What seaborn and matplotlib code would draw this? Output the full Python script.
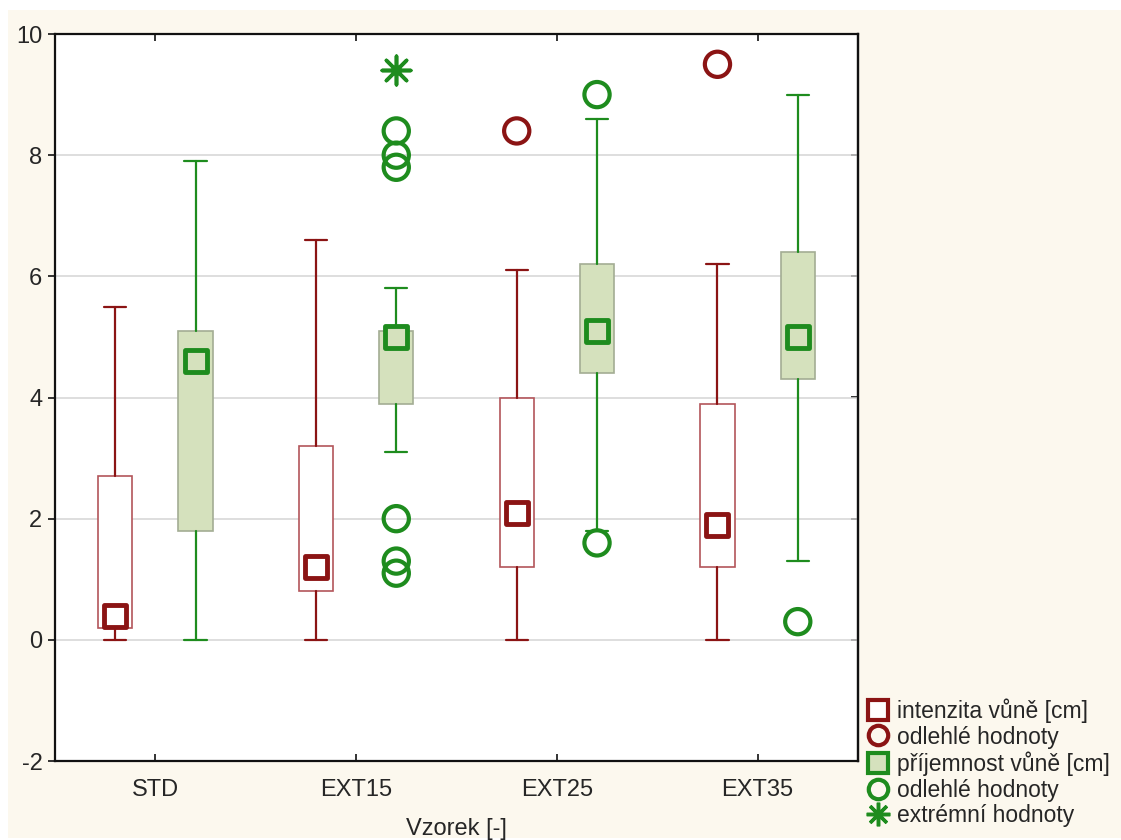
import numpy as np
import pandas as pd
import matplotlib
matplotlib.use("Agg")
import matplotlib.pyplot as plt
from matplotlib.lines import Line2D
from matplotlib.patches import Rectangle
import seaborn as sns

# Samples
categories = ["STD", "EXT15", "EXT25", "EXT35"]

# Odour intensity [cm]: median, quartiles, non-outlier range, outliers
int_med = [0.4, 1.2, 2.1, 1.9]
int_q1 = [0.2, 0.8, 1.2, 1.2]
int_q3 = [2.7, 3.2, 4.0, 3.9]
int_lo = [0.0, 0.0, 0.0, 0.0]
int_hi = [5.5, 6.6, 6.1, 6.2]
int_out = [[], [], [8.4], [9.5]]

# Odour pleasantness [cm]
pri_med = [4.6, 5.0, 5.1, 5.0]
pri_q1 = [1.8, 3.9, 4.4, 4.3]
pri_q3 = [5.1, 5.1, 6.2, 6.4]
pri_lo = [0.0, 3.1, 1.8, 1.3]
pri_hi = [7.9, 5.8, 8.6, 9.0]
pri_out = [[], [8.4, 8.0, 7.8, 2.0, 1.3, 1.1], [9.0, 1.6], [0.3]]
pri_ext = [[], [9.4], [], []]

y_ticks = [-2, 0, 2, 4, 6, 8, 10]

RED = "#8b1414"
RED_BOX = "#b3555a"
GREEN = "#1e8c1e"
GREEN_FILL = "#d5e1bd"
GREEN_BOX = "#a3ad94"
CREAM = "#fcf8ee"

sns.set_theme(style="white")
plt.rcParams["font.family"] = ["Liberation Sans", "DejaVu Sans"]

fig = plt.figure(figsize=(11.21, 8.40), dpi=100, facecolor="white")
fig.patches.append(Rectangle((8 / 1121, 2 / 840), 1, 828 / 840,
                             transform=fig.transFigure, facecolor=CREAM,
                             edgecolor="none", zorder=-10))
ax = fig.add_axes([55 / 1121, 79 / 840, 803 / 1121, 727 / 840])
ax.set_facecolor("white")

offset = 0.2
pos = np.arange(len(categories))
pos_int = pos - offset
pos_pri = pos + offset


def stats_of(med, q1, q3, lo, hi):
    return [dict(med=m, q1=a, q3=b, whislo=l, whishi=h, fliers=[])
            for m, a, b, l, h in zip(med, q1, q3, lo, hi)]


ax.bxp(stats_of(int_med, int_q1, int_q3, int_lo, int_hi), positions=pos_int,
       widths=0.17, capwidths=0.11, showfliers=False, patch_artist=True,
       boxprops=dict(facecolor="white", edgecolor=RED_BOX, linewidth=1.2),
       whiskerprops=dict(color=RED, linewidth=1.6),
       capprops=dict(color=RED, linewidth=1.6),
       medianprops=dict(linewidth=0), zorder=3)
ax.bxp(stats_of(pri_med, pri_q1, pri_q3, pri_lo, pri_hi), positions=pos_pri,
       widths=0.17, capwidths=0.11, showfliers=False, patch_artist=True,
       boxprops=dict(facecolor=GREEN_FILL, edgecolor=GREEN_BOX, linewidth=1.2),
       whiskerprops=dict(color=GREEN, linewidth=1.6),
       capprops=dict(color=GREEN, linewidth=1.6),
       medianprops=dict(linewidth=0), zorder=3)

# Medians
med_int = pd.DataFrame({"x": pos_int, "y": int_med})
med_pri = pd.DataFrame({"x": pos_pri, "y": pri_med})
sns.scatterplot(data=med_int, x="x", y="y", marker="s", s=260, color=RED,
                facecolor="white", edgecolor=RED, linewidth=3.5, zorder=6, ax=ax)
sns.scatterplot(data=med_pri, x="x", y="y", marker="s", s=260, color=GREEN,
                facecolor=GREEN_FILL, edgecolor=GREEN, linewidth=3.5, zorder=6, ax=ax)


def points(positions, groups):
    xs, ys = [], []
    for p, g in zip(positions, groups):
        for v in g:
            xs.append(p)
            ys.append(v)
    return pd.DataFrame({"x": xs, "y": ys})


out_int = points(pos_int, int_out)
out_pri = points(pos_pri, pri_out)
ext_pri = points(pos_pri, pri_ext)
sns.scatterplot(data=out_int, x="x", y="y", marker="o", s=330, color=RED,
                facecolor="none", edgecolor=RED, linewidth=3, zorder=6, ax=ax)
sns.scatterplot(data=out_pri, x="x", y="y", marker="o", s=330, color=GREEN,
                facecolor="none", edgecolor=GREEN, linewidth=3, zorder=6, ax=ax)
sns.scatterplot(data=ext_pri, x="x", y="y", marker=(8, 2, 0), s=420, color=GREEN,
                edgecolor=GREEN, linewidth=2.6, zorder=6, ax=ax)

ax.set_xlim(-0.5, 3.5)
ax.set_ylim(-2, 10)
ax.set_xticks(pos)
ax.set_xticklabels(categories)
ax.set_yticks(y_ticks)
ax.set_yticklabels([str(t) for t in y_ticks])
ax.grid(axis="y", color="#d4d4d4", linewidth=1.1, zorder=0)
ax.set_axisbelow(True)
ax.set_xlabel("Vzorek [-]", fontsize=17, labelpad=12)
ax.set_ylabel("")

for s in ax.spines.values():
    s.set_visible(True)
    s.set_color("#111111")
    s.set_linewidth(1.6)

ax.tick_params(axis="x", direction="in", top=True, bottom=True, length=5,
               width=1.2, color="#111111", labelsize=17, pad=13)
ax.tick_params(axis="y", direction="out", left=True, length=5, width=1.2,
               color="#111111", labelsize=17, pad=4)
right = ax.secondary_yaxis("right")
right.set_yticks(y_ticks)
right.tick_params(axis="y", direction="in", length=5, width=1.2,
                  color="#111111", labelright=False)
right.spines["right"].set_linewidth(1.6)

handles = [
    Line2D([], [], linestyle="none", marker="s", markersize=14,
           markerfacecolor="white", markeredgecolor=RED, markeredgewidth=3),
    Line2D([], [], linestyle="none", marker="o", markersize=14,
           markerfacecolor="none", markeredgecolor=RED, markeredgewidth=3),
    Line2D([], [], linestyle="none", marker="s", markersize=14,
           markerfacecolor=GREEN_FILL, markeredgecolor=GREEN, markeredgewidth=3),
    Line2D([], [], linestyle="none", marker="o", markersize=14,
           markerfacecolor="none", markeredgecolor=GREEN, markeredgewidth=3),
    Line2D([], [], linestyle="none", marker=(8, 2, 0), markersize=17,
           markerfacecolor=GREEN, markeredgecolor=GREEN, markeredgewidth=2.5),
]
labels = ["intenzita vůně [cm]", "odlehlé hodnoty", "příjemnost vůně [cm]",
          "odlehlé hodnoty", "extrémní hodnoty"]
fig.legend(handles, labels, loc="lower left",
           bbox_to_anchor=(850 / 1121, -0.004), frameon=False, fontsize=16.5,
           handlelength=1.0, handletextpad=0.35, labelspacing=0.12,
           borderaxespad=0.3)

fig.savefig("out.png", dpi=100, facecolor=fig.get_facecolor())
